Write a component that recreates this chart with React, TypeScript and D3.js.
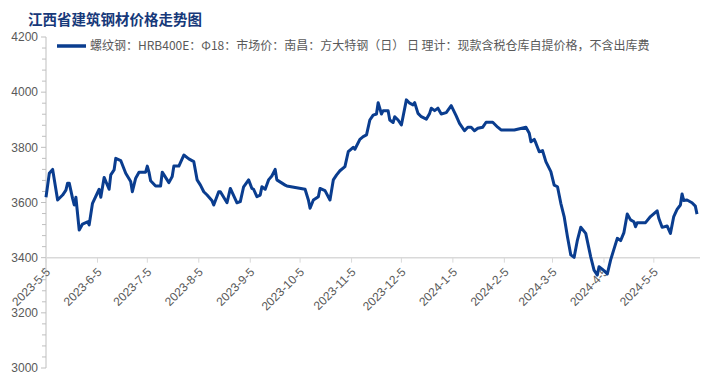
import React from 'react';
import * as d3 from 'd3';

// 江西省建筑钢材价格走势图 — 螺纹钢 HRB400E Φ18 南昌 方大特钢
const dates = [
  '2023-05-05', '2023-05-07', '2023-05-09', '2023-05-12', '2023-05-15', '2023-05-17', '2023-05-18', '2023-05-19',
  '2023-05-21', '2023-05-22', '2023-05-23', '2023-05-25', '2023-05-27', '2023-05-30', '2023-05-31', '2023-06-02',
  '2023-06-06', '2023-06-07', '2023-06-09', '2023-06-12', '2023-06-13', '2023-06-15', '2023-06-16', '2023-06-19',
  '2023-06-22', '2023-06-25', '2023-06-26', '2023-06-28', '2023-06-30', '2023-07-04', '2023-07-05', '2023-07-06',
  '2023-07-07', '2023-07-10', '2023-07-13', '2023-07-14', '2023-07-18', '2023-07-20', '2023-07-21', '2023-07-24',
  '2023-07-27', '2023-07-30', '2023-08-02', '2023-08-04', '2023-08-06', '2023-08-08', '2023-08-10', '2023-08-13',
  '2023-08-14', '2023-08-17', '2023-08-18', '2023-08-22', '2023-08-24', '2023-08-28', '2023-08-30', '2023-09-01',
  '2023-09-04', '2023-09-06', '2023-09-07', '2023-09-09', '2023-09-11', '2023-09-12', '2023-09-14', '2023-09-16',
  '2023-09-18', '2023-09-20', '2023-09-21', '2023-09-26', '2023-09-27', '2023-10-08', '2023-10-10', '2023-10-11',
  '2023-10-13', '2023-10-16', '2023-10-17', '2023-10-20', '2023-10-23', '2023-10-25', '2023-10-27', '2023-10-29',
  '2023-11-01', '2023-11-03', '2023-11-06', '2023-11-07', '2023-11-10', '2023-11-12', '2023-11-14', '2023-11-16',
  '2023-11-18', '2023-11-20', '2023-11-21', '2023-11-23', '2023-11-24', '2023-11-27', '2023-11-28', '2023-11-30',
  '2023-12-01', '2023-12-03', '2023-12-05', '2023-12-08', '2023-12-10', '2023-12-12', '2023-12-13', '2023-12-15',
  '2023-12-17', '2023-12-20', '2023-12-22', '2023-12-23', '2023-12-25', '2023-12-27', '2023-12-29', '2024-01-01',
  '2024-01-04', '2024-01-07', '2024-01-09', '2024-01-12', '2024-01-14', '2024-01-16', '2024-01-18', '2024-01-20',
  '2024-01-23', '2024-01-25', '2024-01-29', '2024-02-01', '2024-02-03', '2024-02-11', '2024-02-18', '2024-02-20',
  '2024-02-21', '2024-02-23', '2024-02-24', '2024-02-26', '2024-02-28', '2024-03-01', '2024-03-04', '2024-03-06',
  '2024-03-08', '2024-03-10', '2024-03-12', '2024-03-14', '2024-03-16', '2024-03-18', '2024-03-20', '2024-03-22',
  '2024-03-25', '2024-03-28', '2024-03-30', '2024-04-01', '2024-04-02', '2024-04-05', '2024-04-07', '2024-04-09',
  '2024-04-11', '2024-04-13', '2024-04-15', '2024-04-17', '2024-04-19', '2024-04-21', '2024-04-23', '2024-04-24',
  '2024-04-25', '2024-04-30', '2024-05-03', '2024-05-07', '2024-05-08', '2024-05-10', '2024-05-13', '2024-05-15',
  '2024-05-17', '2024-05-19', '2024-05-21', '2024-05-22', '2024-05-23', '2024-05-25', '2024-05-28', '2024-05-30',
  '2024-05-31',
];

const prices = [
  3619, 3706, 3720, 3609, 3627, 3645, 3670, 3670,
  3615, 3591, 3619, 3500, 3522, 3530, 3519, 3597,
  3648, 3619, 3691, 3648, 3700, 3718, 3760, 3752,
  3706, 3676, 3639, 3688, 3710, 3710, 3732, 3710,
  3679, 3660, 3660, 3710, 3672, 3694, 3732, 3732,
  3772, 3758, 3748, 3682, 3663, 3639, 3627, 3606,
  3591, 3639, 3639, 3599, 3651, 3599, 3603, 3657,
  3682, 3651, 3648, 3621, 3627, 3657, 3648, 3682,
  3696, 3720, 3682, 3663, 3660, 3648, 3609, 3579,
  3609, 3621, 3651, 3643, 3609, 3682, 3700, 3715,
  3730, 3784, 3800, 3793, 3829, 3839, 3845, 3899,
  3917, 3921, 3962, 3921, 3933, 3933, 3899, 3890,
  3911, 3899, 3881, 3972, 3960, 3954, 3962, 3923,
  3911, 3902, 3923, 3942, 3933, 3942, 3921, 3926,
  3951, 3914, 3887, 3860, 3873, 3873, 3860, 3869,
  3873, 3891, 3891, 3873, 3863, 3863, 3873, 3851,
  3820, 3829, 3815, 3784, 3788, 3748, 3712, 3663,
  3657, 3597, 3549, 3476, 3410, 3401, 3464, 3510,
  3488, 3403, 3355, 3337, 3367, 3353, 3341, 3392,
  3431, 3470, 3462, 3491, 3558, 3537, 3530, 3512,
  3527, 3527, 3549, 3570, 3543, 3510, 3515, 3488,
  3549, 3575, 3591, 3631, 3607, 3609, 3599, 3587,
  3558,
];

const xTickLabels = [
  '2023-5-5', '2023-6-5', '2023-7-5', '2023-8-5', '2023-9-5', '2023-10-5', '2023-11-5',
  '2023-12-5', '2024-1-5', '2024-2-5', '2024-3-5', '2024-4-5', '2024-5-5',
];

const yTicks = [3000, 3200, 3400, 3600, 3800, 4000, 4200];

const title = '江西省建筑钢材价格走势图';
const seriesName = '螺纹钢：HRB400E：Φ18：市场价：南昌：方大特钢（日） 日 理计：现款含税仓库自提价格，不含出库费';

const width = 702;
const height = 372;
const margin = { top: 37, right: 5, bottom: 4, left: 46 };
const lineColor = '#0a3d8f';
const axisColor = '#bfbfbf';
const labelColor = '#595959';

export default function App() {
  const parse = d3.timeParse('%Y-%m-%d');
  const data = dates.map((d, i) => ({ date: parse(d) as Date, value: prices[i] }));
  const tickDates = xTickLabels.map(s => d3.timeParse('%Y-%-m-%-d')(s) as Date);

  const xScale = d3.scaleTime()
    .domain([parse('2023-05-05') as Date, parse('2024-05-31') as Date])
    .range([margin.left, 697]);

  const yScale = d3.scaleLinear()
    .domain([3000, 4200])
    .range([height - margin.bottom, margin.top]);

  const minorTicks = d3.range(3000, 4200, 40).filter(v => v % 200 !== 0);

  const linePath = d3.line<{ date: Date; value: number }>()
    .x(d => xScale(d.date))
    .y(d => yScale(d.value))(data);

  const baseY = yScale(3400);

  return (
    <svg width={width} height={height} style={{ position: 'absolute', left: 0, top: 0, background: '#fff' }}
      fontFamily="'Liberation Sans', Arial, sans-serif">
      <text x={28} y={25} fontSize={14.5} fontWeight="bold" fill="#17397a"
        fontFamily="'Noto Sans CJK SC', sans-serif">{title}</text>

      {/* legend */}
      <line x1={57} x2={86} y1={46} y2={46} stroke={lineColor} strokeWidth={3.5} />
      <text x={90} y={50} fontSize={12} fill={labelColor}
        fontFamily="'Noto Sans CJK SC', sans-serif">{seriesName}</text>

      {/* y axis */}
      <line x1={margin.left} x2={margin.left} y1={yScale(4200)} y2={yScale(3000)} stroke={axisColor} />
      {yTicks.map(t => (
        <g key={t} transform={`translate(0,${yScale(t)})`}>
          <line x1={margin.left - 5} x2={margin.left} stroke={axisColor} />
          <text x={margin.left - 8} dy="0.35em" textAnchor="end" fontSize={12} fill={labelColor}>{t}</text>
        </g>
      ))}
      {minorTicks.map(t => (
        <line key={t} x1={margin.left - 4} x2={margin.left} y1={yScale(t)} y2={yScale(t)} stroke={axisColor} />
      ))}

      {/* x axis at 3400 */}
      <line x1={margin.left} x2={700} y1={baseY} y2={baseY} stroke="#d9d9d9" strokeWidth={1.5} />
      {tickDates.map((d, i) => (
        <g key={xTickLabels[i]} transform={`translate(${xScale(d)},${baseY})`}>
          <line y1={0} y2={5} stroke="#d9d9d9" />
          <text transform="translate(5,15) rotate(-45)" textAnchor="end" fontSize={12} fill={labelColor}>
            {xTickLabels[i]}
          </text>
        </g>
      ))}

      <path d={linePath || ''} fill="none" stroke={lineColor} strokeWidth={3} strokeLinejoin="round" />
    </svg>
  );
}
